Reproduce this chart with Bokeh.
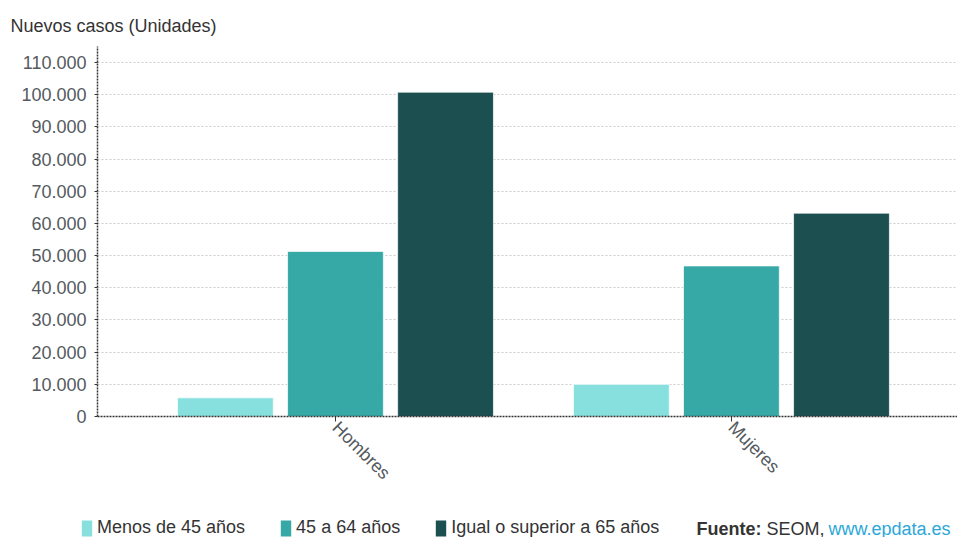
import math
from bokeh.plotting import figure
from bokeh.layouts import column, row
from bokeh.models import (ColumnDataSource, Range1d, FixedTicker, CustomJSTickFormatter,
                          Legend, LegendItem, Label, Title)
from bokeh.transform import dodge
from bokeh.embed import file_html
from bokeh.resources import INLINE

categories = ["Hombres", "Mujeres"]
series_names = ["Menos de 45 años", "45 a 64 años", "Igual o superior a 65 años"]
menos_45 = [5800, 10000]
de_45_a_64 = [51300, 46800]
mas_65 = [100800, 63200]
y_ticks = list(range(0, 110001, 10000))

colors = ["#87e0dd", "#36a9a6", "#1b4f50"]
FONT = "Liberation Sans"
FS = "18px"

src = ColumnDataSource(dict(xi=list(range(len(categories))), cat=categories,
                            menos=menos_45, medio=de_45_a_64, mayor=mas_65))

p = figure(width=957, height=510, output_backend="svg", toolbar_location=None,
           x_range=Range1d(-0.601, 1.571), y_range=Range1d(0, 115000),
           min_border_left=97, min_border_right=0, min_border_top=46, min_border_bottom=94)
p.outline_line_color = None
p.background_fill_color = "white"

offs = [-0.278, 0.0, 0.278]
cols = ["menos", "medio", "mayor"]
for off, col, c in zip(offs, cols, colors):
    p.vbar(x=dodge("xi", off, range=p.x_range), top=col, width=0.242, source=src,
           fill_color=c, line_color="white", line_width=1, line_alpha=0.7)

# title
p.title = Title(text="Nuevos casos (Unidades)", align="left", offset=-87, standoff=22,
                text_font=FONT, text_font_size=FS, text_font_style="normal",
                text_color="#333333")

# axes
p.yaxis.ticker = FixedTicker(ticks=y_ticks)
p.yaxis.formatter = CustomJSTickFormatter(
    code="return tick.toFixed(0).replace(/\\B(?=(\\d{3})+(?!\\d))/g, '.');")
p.xaxis.ticker = FixedTicker(ticks=list(range(len(categories))))
p.xaxis.major_label_overrides = {i: c for i, c in enumerate(categories)}
p.xaxis.major_label_orientation = -math.pi / 4
for ax in (p.xaxis[0], p.yaxis[0]):
    ax.axis_line_color = "#333333"
    ax.axis_line_width = 1.5
    ax.axis_line_dash = "2 1"
    ax.major_tick_line_color = "#333333"
    ax.major_tick_in = 0
    ax.minor_tick_line_color = None
    ax.major_label_text_font = FONT
    ax.major_label_text_font_size = FS
    ax.major_label_text_color = "#555a60"
p.yaxis.major_tick_out = 3
p.yaxis.major_label_standoff = 8
p.xaxis.major_tick_out = 5
p.xaxis.major_label_standoff = 3

p.xgrid.grid_line_color = None
p.ygrid.ticker = FixedTicker(ticks=y_ticks)
p.ygrid.grid_line_color = "#cccccc"
p.ygrid.grid_line_dash = "2 2"
p.ygrid.grid_line_width = 1

# footer with legend and source (pixel-like coordinates)
FH = 27
f = figure(width=957, height=FH, output_backend="svg", toolbar_location=None,
           x_range=Range1d(0, 957), y_range=Range1d(0, FH),
           x_axis_type=None, y_axis_type=None,
           min_border_left=0, min_border_right=0, min_border_top=0, min_border_bottom=0)
f.outline_line_color = None
f.xgrid.visible = False
f.ygrid.visible = False
items = []
for name, c in zip(series_names, colors):
    # zero-height proxy renderer, only used for the legend swatch
    r = f.vbar(x=[0], top=[0], bottom=[0], width=1, fill_color=c, line_color=None)
    items.append(LegendItem(label=name, renderers=[r]))
lg = Legend(items=items, location=(80, -1), orientation="horizontal",
            glyph_width=13, glyph_height=20, label_height=20, label_standoff=4, spacing=34,
            label_text_font=FONT, label_text_font_size=FS, label_text_color="#333333",
            border_line_color=None, background_fill_alpha=0, padding=0, margin=0)
f.add_layout(lg, "center")

fy = 9
for txt, x, style, colr in [("Fuente:", 696, "bold", "#333333"),
                            ("SEOM,", 766, "normal", "#333333"),
                            ("www.epdata.es", 828, "normal", "#2aa8d8")]:
    f.add_layout(Label(x=x, y=fy, text=txt, text_font=FONT, text_font_size=FS,
                       text_font_style=style, text_color=colr, text_baseline="middle"))

layout = column(p, row(f, spacing=0), spacing=0)
open("out.html", "w").write(file_html(layout, INLINE))
